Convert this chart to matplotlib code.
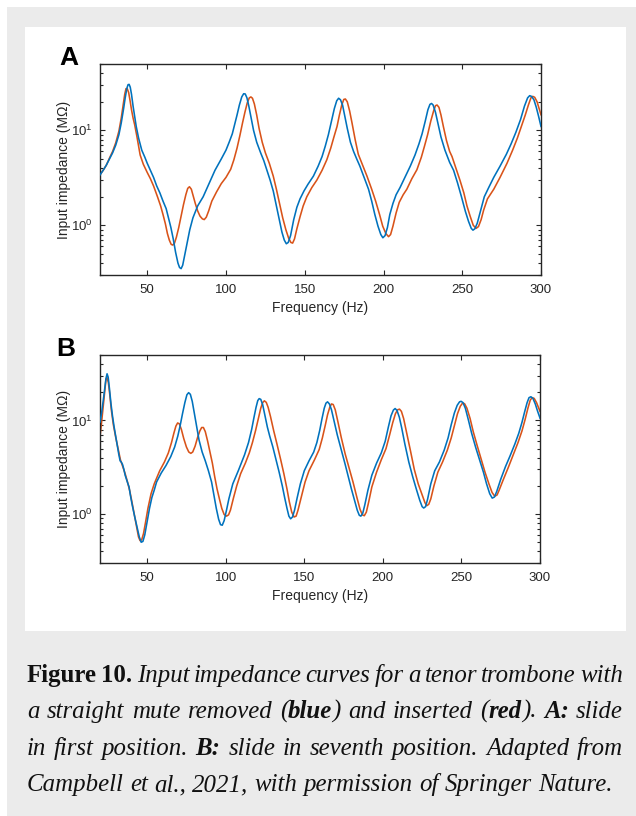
import numpy as np
import matplotlib
matplotlib.use("Agg")
import matplotlib.pyplot as plt
from matplotlib.patches import Rectangle
from matplotlib.ticker import LogLocator, NullFormatter

# ---- values: (frequency Hz, input impedance MOhm) ----
# panel A - slide in first position, mute removed (blue) / inserted (red)
a_blue = [(20, 3.4), (22, 3.8), (24, 4.3), (26, 5.0), (28, 5.8), (30, 7.0), (32, 9.0), (33.5, 12),
          (35, 17), (36, 22), (37, 27.5), (37.8, 30.3), (38.5, 30.5), (39.2, 28.5), (40, 24), (41, 18),
          (42, 14), (43, 11), (44.5, 8.3), (46.5, 6.2), (48.5, 5.2), (50, 4.5), (52, 3.8), (54, 3.2),
          (56, 2.6), (58, 2.2), (60, 1.8), (62, 1.5), (63.5, 1.2), (65, 0.95), (66.5, 0.72), (68, 0.52),
          (69.5, 0.4), (70.5, 0.36), (71.5, 0.35), (72.5, 0.38), (73.5, 0.46), (75, 0.62), (77, 0.9),
          (79, 1.2), (82, 1.6), (85.5, 2.0), (89, 2.7), (93, 3.8), (97, 5.0), (100, 6.2), (102, 7.5),
          (104, 9.2), (105.5, 11.5), (107, 14.5), (108.5, 18.5), (110, 22.5), (111.2, 24.3),
          (112.2, 24.2), (113.3, 22), (114.5, 18), (116, 13.5), (117.5, 10), (119.5, 7.5), (122, 5.8),
          (124, 4.8), (126, 3.8), (128, 3.0), (130, 2.3), (132, 1.6), (134, 1.1), (135.5, 0.85),
          (137, 0.7), (138.3, 0.64), (139.5, 0.66), (141, 0.78), (143, 1.15), (145, 1.55), (147, 1.9),
          (149.5, 2.3), (152, 2.7), (155.5, 3.3), (158.5, 4.2), (161, 5.3), (163, 6.8), (165, 9.0),
          (167, 12.5), (168.8, 17), (170.3, 20.5), (171.5, 21.8), (172.7, 21), (174, 18.5), (175.5, 14),
          (177, 10.5), (179, 7.5), (181, 6.0), (183, 5.0), (185, 4.2), (188, 3.1), (190.5, 2.4),
          (192.5, 1.8), (194.5, 1.3), (196.5, 0.98), (198.3, 0.8), (199.6, 0.74), (201, 0.78),
          (202.5, 0.95), (204, 1.3), (206, 1.7), (208, 2.1), (210.5, 2.5), (214, 3.3), (217, 4.2),
          (220, 5.5), (222.5, 7.2), (224.5, 9.2), (226.5, 12.5), (228.2, 16.5), (229.5, 18.8),
          (230.5, 19.2), (231.5, 18.5), (233, 15.5), (234.5, 12), (236.5, 8.5), (239, 6.2), (242, 4.6),
          (244.5, 3.8), (247, 2.8), (249.5, 2.0), (252, 1.4), (254, 1.1), (255.7, 0.93), (256.8, 0.89),
          (258, 0.92), (259.5, 1.05), (261.5, 1.4), (264, 2.0), (266.8, 2.5), (270, 3.2), (274, 4.2),
          (278, 5.6), (281, 7.2), (284, 9.5), (287, 13), (289.5, 18), (291.5, 22), (292.8, 23.2),
          (294, 22.8), (295.5, 21), (297, 17.5), (298.5, 14), (300, 11)]

a_red = [(20, 3.4), (22, 3.8), (24, 4.3), (26, 5.1), (28, 6.0), (30, 7.4), (32, 9.8), (33.5, 13.5),
         (34.7, 18.5), (35.7, 24), (36.5, 27.5), (37.3, 27.5), (38.2, 25), (39, 21), (40, 16.5),
         (41, 13.5), (42, 11.5), (43.5, 8.5), (45.5, 5.5), (47.5, 4.4), (50, 3.6), (52, 3.1), (54, 2.6),
         (56.5, 2.0), (58.5, 1.6), (60, 1.3), (61.5, 1.04), (62.8, 0.82), (64, 0.7), (65.2, 0.63),
         (66.2, 0.62), (67.3, 0.65), (68.5, 0.75), (70, 0.95), (71.5, 1.25), (73, 1.65), (74.5, 2.1),
         (75.7, 2.45), (76.8, 2.55), (78, 2.4), (79.3, 2.0), (80.5, 1.7), (82, 1.42), (83.5, 1.25),
         (85, 1.17), (86.2, 1.15), (87.5, 1.22), (89, 1.42), (91, 1.8), (94, 2.25), (97, 2.75),
         (100, 3.2), (103, 3.9), (105, 4.9), (107, 6.5), (108.8, 8.8), (110.5, 12), (112, 15.5),
         (113.5, 19.5), (114.8, 22), (115.8, 22.5), (116.8, 21.8), (118, 19), (119.5, 14.5),
         (121, 10.5), (123, 7.5), (125, 5.8), (127.5, 4.5), (130, 3.3), (132, 2.4), (134, 1.7),
         (136, 1.2), (138, 0.9), (139.8, 0.73), (141.2, 0.66), (142.3, 0.65), (143.5, 0.72),
         (145, 0.92), (147, 1.23), (149, 1.6), (151.3, 2.0), (154.5, 2.5), (157.7, 3.0), (161, 3.8),
         (164, 4.9), (166.5, 6.5), (168.5, 8.5), (170.5, 11), (172, 14.5), (173.5, 18.5), (174.8, 21.2),
         (175.8, 21.4), (177, 20), (178.5, 16), (180, 12), (182, 8), (184, 5.6), (186.5, 4.4),
         (189.5, 3.3), (192.5, 2.4), (195, 1.8), (197.5, 1.3), (199.5, 0.98), (201.5, 0.82),
         (203.2, 0.76), (204.5, 0.8), (206, 0.98), (208, 1.35), (210, 1.75), (212.5, 2.1), (214.8, 2.4),
         (218, 3.1), (221.2, 3.85), (224, 5.2), (226, 6.8), (228, 9.0), (230, 12.5), (231.8, 16),
         (233, 18.2), (234, 18.5), (235.2, 17.5), (236.5, 14.5), (238, 11), (240, 7.8), (242, 6.0),
         (243.5, 5.3), (246, 4.0), (248.5, 3.0), (251, 2.2), (253, 1.6), (255, 1.25), (257, 1.0),
         (258.8, 0.93), (260.3, 0.97), (262, 1.15), (263.6, 1.45), (266, 1.9), (270, 2.4), (274, 3.2),
         (278.4, 4.5), (282, 6.2), (285, 8.3), (287.5, 11), (290, 14.5), (292, 18.5), (293.6, 22),
         (294.8, 22.8), (296, 22.3), (297.5, 20), (299, 16.5), (300, 14.6)]

# panel B - slide in seventh position
b_blue = [(20, 9.6), (21, 12), (22, 16), (23, 22), (23.8, 28), (24.5, 31.5), (25.2, 29), (26, 22),
          (27, 15), (28, 11), (29, 8.5), (30, 6.8), (31, 5.5), (32, 4.3), (32.8, 3.7), (33.5, 3.6),
          (34.3, 3.4), (35.2, 3.0), (36, 2.6), (37, 2.3), (37.8, 2.1), (38.5, 1.95), (39.3, 1.6),
          (40.5, 1.25), (42, 0.95), (43.5, 0.74), (45, 0.57), (46.2, 0.5), (47.3, 0.51), (48.5, 0.6),
          (49.8, 0.8), (51.5, 1.15), (53, 1.5), (54.5, 1.8), (56, 2.2), (59, 2.75), (62, 3.3), (65, 4.1),
          (67.5, 5.2), (69.5, 6.8), (71, 8.8), (72.5, 11.8), (74, 15.5), (75.3, 18.8), (76.4, 19.8),
          (77.5, 19), (78.7, 16), (80, 12), (81.5, 8.5), (83, 6.2), (85, 4.6), (87, 3.7), (89, 2.9),
          (91, 2.2), (92.5, 1.6), (94, 1.15), (95.5, 0.88), (96.7, 0.77), (97.8, 0.76), (99, 0.85),
          (100.5, 1.1), (102, 1.45), (104.5, 2.1), (108, 2.9), (112, 4.3), (114.5, 5.8), (116.5, 8),
          (118, 10.8), (119.3, 13.8), (120.4, 16.3), (121.3, 17.1), (122.3, 16.8), (123.5, 14.8),
          (125, 11.2), (126.5, 8.5), (128, 6.8), (130, 5.2), (132, 3.8), (134, 2.8), (136, 2.0),
          (137.5, 1.5), (139, 1.15), (140.2, 0.95), (141.3, 0.89), (142.5, 0.93), (143.8, 1.1),
          (145.5, 1.5), (147.5, 2.1), (150, 2.9), (153, 3.7), (156, 4.6), (158, 5.8), (159.8, 7.8),
          (161.3, 10.5), (162.7, 13.5), (163.8, 15.3), (164.8, 15.8), (166, 15), (167.3, 13), (169, 9.8),
          (171, 7), (173.5, 4.9), (176, 3.4), (178, 2.5), (180, 1.85), (182, 1.4), (183.7, 1.1),
          (185, 0.97), (186, 0.95), (187.2, 1.02), (188.5, 1.25), (190.5, 1.8), (193, 2.6), (196, 3.5),
          (199, 4.5), (201.5, 6.0), (203.5, 8.5), (205.2, 11.2), (206.7, 12.9), (207.8, 13.4), (209, 12.8),
          (210.5, 10.8), (212, 8.3), (214, 5.6), (216.5, 3.6), (219, 2.5), (221.5, 1.8), (223.5, 1.4),
          (225, 1.2), (226, 1.16), (227.2, 1.2), (228.5, 1.45), (230.5, 2.1), (233, 2.9), (236, 3.6),
          (239, 4.8), (241.5, 6.5), (243.5, 9), (245.5, 12), (247.3, 14.5), (248.8, 15.8), (249.8, 16),
          (251, 15.5), (252.5, 13.5), (254.5, 10), (256.5, 7.3), (259, 5.2), (261.5, 3.8), (264, 2.8),
          (266, 2.1), (268, 1.65), (269.6, 1.48), (271, 1.52), (272.5, 1.75), (275, 2.35), (278, 3.2),
          (281, 4.2), (284, 5.6), (286.5, 7.3), (288.5, 9.5), (290.3, 12.5), (291.8, 15.5), (293, 17.5),
          (294.2, 17.9), (295.5, 17.2), (297, 15), (298.5, 12.5), (300, 10.6)]

b_red = [(20, 6.7), (21, 9.5), (22, 14), (23, 21), (23.8, 27.5), (24.5, 28.6), (25.3, 25.5), (26.2, 19),
         (27.2, 13), (28.5, 9), (30, 6.6), (31.5, 5.0), (33, 3.8), (34.5, 3.2), (36, 2.7), (37.5, 2.2),
         (39, 1.75), (40.5, 1.3), (42, 0.95), (43.3, 0.72), (44.5, 0.57), (45.5, 0.52), (46.5, 0.53),
         (47.7, 0.62), (49, 0.82), (50.5, 1.15), (52.5, 1.65), (54.5, 2.1), (58, 2.9), (61, 3.6),
         (63.5, 4.5), (65.5, 5.8), (67, 7.3), (68.3, 8.7), (69.4, 9.4), (70.5, 9.2), (71.8, 8.0),
         (73.3, 6.4), (75, 5.2), (76.5, 4.6), (77.8, 4.45), (79, 4.6), (80.5, 5.3), (82, 6.5),
         (83.5, 7.7), (84.7, 8.4), (85.8, 8.4), (87, 7.6), (88.5, 6.0), (90, 4.6), (91.5, 3.5), (93, 2.5),
         (94.5, 1.85), (96, 1.45), (97.5, 1.15), (99, 0.99), (100.5, 0.95), (101.8, 0.98), (103, 1.1),
         (105, 1.5), (107, 2.0), (109.5, 2.7), (112.5, 3.5), (115, 4.5), (117, 5.8), (119, 7.8),
         (120.8, 10.5), (122.3, 13.5), (123.5, 15.5), (124.6, 16.2), (125.8, 15.6), (127, 13.8),
         (128.5, 11), (130.5, 7.8), (132.5, 5.7), (135, 3.8), (137, 2.7), (139, 1.85), (140.5, 1.35),
         (142, 1.05), (143.5, 0.93), (144.8, 0.95), (146, 1.1), (148, 1.5), (150.5, 2.2), (153, 2.9),
         (156.5, 3.8), (159.5, 4.9), (161.5, 6.5), (163.3, 8.8), (164.8, 11.5), (166.2, 13.8),
         (167.3, 15), (168.4, 14.8), (169.7, 13), (171.5, 9.5), (173.5, 6.6), (176, 4.4), (178.5, 3.1),
         (181, 2.2), (183.5, 1.5), (185.5, 1.12), (187, 0.98), (188.2, 0.96), (189.5, 1.05), (191, 1.35),
         (193, 1.95), (196, 2.8), (199, 3.8), (202, 5.0), (204.3, 7.0), (206.3, 9.5), (208, 11.8),
         (209.4, 13.0), (210.6, 13.2), (211.8, 12.5), (213.2, 10.5), (215, 7.6), (217.5, 4.8),
         (220, 3.0), (222.5, 2.1), (225, 1.6), (226.8, 1.32), (228, 1.23), (229.2, 1.27), (230.5, 1.45),
         (232.5, 2.0), (235, 2.8), (238, 3.6), (241, 4.8), (243.5, 6.5), (245.5, 8.8), (247.5, 11.8),
         (249.3, 14.2), (250.7, 15.3), (252, 15.1), (253.5, 13.5), (255.5, 10.5), (257.5, 7.6),
         (260, 5.4), (262.5, 3.9), (265, 2.8), (267.5, 2.1), (269.5, 1.7), (271.2, 1.55), (272.7, 1.6),
         (274, 1.8), (276.5, 2.3), (280, 3.2), (283, 4.3), (286, 5.8), (288.5, 7.7), (290.5, 10.2),
         (292.3, 13.5), (293.8, 16.5), (295, 17.5), (296.3, 17.2), (297.8, 15.5), (299, 13.8),
         (300, 12.5)]

x_ticks = [50, 100, 150, 200, 250, 300]
blue = '#0072BD'
red = '#D95319'
ink = '#262626'

W, H = 636, 816
fig = plt.figure(figsize=(W / 100, H / 100), dpi=100)
fig.patch.set_facecolor('white')


def box(x0, y0, x1, y1):
    # pixel box (top-left origin) -> figure fraction rect
    return [x0 / W, 1 - y1 / H, (x1 - x0) / W, (y1 - y0) / H]


# grey card and white plot area
b = box(7, 7, 636, 816)
fig.add_artist(Rectangle((b[0], b[1]), b[2], b[3], transform=fig.transFigure,
                         facecolor='#ebebeb', edgecolor='none', zorder=-2))
b = box(25, 27, 626, 631)
fig.add_artist(Rectangle((b[0], b[1]), b[2], b[3], transform=fig.transFigure,
                         facecolor='white', edgecolor='none', zorder=-1))

plt.rcParams['font.family'] = ['Liberation Sans', 'DejaVu Sans']
plt.rcParams['mathtext.fontset'] = 'custom'
plt.rcParams['mathtext.rm'] = 'Liberation Sans'


def panel(rect, blue_pts, red_pts, letter, lpos):
    ax = fig.add_axes(box(*rect))
    fb, zb = np.array(blue_pts).T
    fr, zr = np.array(red_pts).T
    ax.plot(fb, zb, color=blue, lw=1.15, zorder=3, solid_joinstyle='round')
    ax.plot(fr, zr, color=red, lw=1.15, zorder=2, solid_joinstyle='round')
    ax.set_yscale('log')
    ax.set_xlim(20, 300)
    ax.set_ylim(0.3, 50)
    ax.set_xticks(x_ticks)
    ax.yaxis.set_major_locator(LogLocator(base=10, numticks=10))
    ax.yaxis.set_minor_locator(LogLocator(base=10, subs=np.arange(2, 10), numticks=20))
    ax.yaxis.set_minor_formatter(NullFormatter())
    ax.tick_params(which='both', direction='in', top=True, right=True, color=ink,
                   labelcolor=ink, labelsize=9.5, width=0.8)
    ax.tick_params(which='major', length=3.5, pad=5)
    ax.tick_params(axis='x', which='major', pad=6.5)
    ax.tick_params(which='minor', length=2)
    for s in ax.spines.values():
        s.set_color(ink)
        s.set_linewidth(1.0)
    ax.set_xlabel('Frequency (Hz)', fontsize=10, color=ink)
    ax.set_ylabel('Input impedance (MΩ)', fontsize=10, color=ink)
    ax.xaxis.set_label_coords(0.5, -0.125)
    ax.yaxis.set_label_coords(-0.066, 0.5)
    fig.text(lpos[0] / W, 1 - lpos[1] / H, letter, fontsize=19, fontweight='bold',
             color='black', ha='left', va='baseline')
    return ax


panel((100, 64, 541, 275), a_blue, a_red, 'A', (59, 65))
panel((100, 355, 540, 563), b_blue, b_red, 'B', (56, 356))

# ---- caption, justified by hand ----
N, BO, IT = 'normal', 'bold', 'italic'


def ital(s):
    return [[(w, N, IT)] for w in s.split()]


cap_lines = [
    [[('Figure', BO, N)], [('10.', BO, N)]] + ital('Input impedance curves for a tenor trombone with'),
    ital('a straight mute removed') + [[('(', N, IT), ('blue', BO, IT), (')', N, IT)]]
    + ital('and inserted') + [[('(', N, IT), ('red', BO, IT), (').', N, IT)]]
    + [[('A:', BO, IT)]] + ital('slide'),
    ital('in first position.') + [[('B:', BO, IT)]] + ital('slide in seventh position. Adapted from'),
    ital('Campbell et al., 2021, with permission of Springer Nature.'),
]
cap_base = [682, 718, 755, 791]
cap_left, cap_right = 27, 623
cap_size = 17.9

renderer = fig.canvas.get_renderer()
for li, words in enumerate(cap_lines):
    items = []
    widths = []
    for word in words:
        segs = []
        wsum = 0
        for txt, wt, st in word:
            t = fig.text(0, 1 - cap_base[li] / H, txt, fontsize=cap_size, fontweight=wt,
                         fontstyle=st, family=['Liberation Serif', 'DejaVu Serif'],
                         color='#111111', va='baseline', ha='left')
            w = t.get_window_extent(renderer).width
            segs.append((t, w))
            wsum += w
        items.append(segs)
        widths.append(wsum)
    if li < len(cap_lines) - 1:
        gap = (cap_right - cap_left - sum(widths)) / (len(words) - 1)
    else:
        gap = cap_size * 1.389 * 0.25
    x = cap_left
    for segs, w in zip(items, widths):
        xx = x
        for t, sw in segs:
            t.set_x(xx / W)
            xx += sw
        x += w + gap

fig.savefig('out.png', dpi=100, facecolor=fig.get_facecolor())
